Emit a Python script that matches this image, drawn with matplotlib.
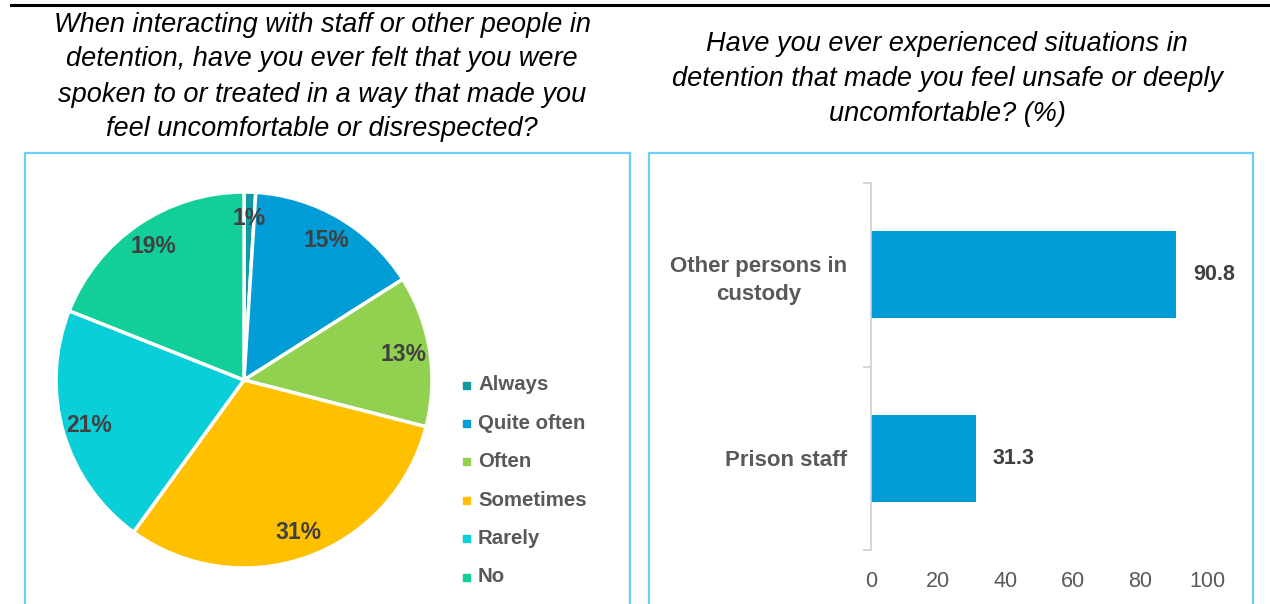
import numpy as np
import matplotlib.pyplot as plt
from matplotlib.patches import Rectangle
from matplotlib.lines import Line2D

plt.rcParams['font.family'] = ['Liberation Sans', 'DejaVu Sans']

# pie: felt disrespected
freq_labels = ['Always', 'Quite often', 'Often', 'Sometimes', 'Rarely', 'No']
freq_values = [1, 15, 13, 31, 21, 19]
freq_colors = ['#109A9E', '#029CD6', '#92D050', '#FFC000', '#0BCFD8', '#12CE98']

# bars: felt unsafe (%)
who = ['Prison staff', 'Other persons in\ncustody']
unsafe = [31.3, 90.8]
bar_color = '#029CD6'

W, H = 1270, 604
fig = plt.figure(figsize=(W / 100, H / 100), dpi=100)

# heading rule and panel frames
fig.add_artist(Line2D([11 / W, 1], [1 - 5 / H, 1 - 5 / H], color='black', lw=2.2))
for x0, x1 in [(25, 630), (649, 1253)]:
    fig.add_artist(Rectangle((x0 / W, -0.05), (x1 - x0) / W, 0.05 + (H - 153) / H,
                             fill=False, edgecolor='#6CD0F5', lw=1.6))

fig.text(322 / W, 1 - 77 / H,
         'When interacting with staff or other people in\n'
         'detention, have you ever felt that you were\n'
         'spoken to or treated in a way that made you\n'
         'feel uncomfortable or disrespected?',
         ha='center', va='center', fontsize=19.5, style='italic', linespacing=1.45)
fig.text(947 / W, 1 - 79 / H,
         'Have you ever experienced situations in\n'
         'detention that made you feel unsafe or deeply\n'
         'uncomfortable? (%)',
         ha='center', va='center', fontsize=19.5, style='italic', linespacing=1.45)

# pie chart, clockwise from 12 o'clock
r = 188
ax1 = fig.add_axes([(244 - r) / W, (H - 380 - r) / H, 2 * r / W, 2 * r / H])
wedges, _, autotexts = ax1.pie(freq_values, colors=freq_colors, startangle=90, counterclock=False,
                               autopct='%d%%', pctdistance=0.86,
                               wedgeprops=dict(edgecolor='white', linewidth=2.5))
for w in wedges:
    w.set_clip_on(False)
for t in autotexts:
    t.set_fontsize(16.5)
    t.set_fontweight('bold')
    t.set_color('#404040')
ax1.set_xlim(-1, 1)
ax1.set_ylim(-1, 1)

# legend entries
for i, (lab, col) in enumerate(zip(freq_labels, freq_colors)):
    y = 1 - (385 + i * 38.4) / H
    fig.add_artist(Rectangle((463 / W, y - 3.5 / H), 7 / W, 7 / H, color=col))
    fig.text(478 / W, y, lab, ha='left', va='center', fontsize=14.7,
             fontweight='bold', color='#595959')

# horizontal bar chart
ax2 = fig.add_axes([871 / W, 54 / H, 336 / W, 367 / H])
y = np.arange(len(who))
ax2.barh(y, unsafe, height=0.475, color=bar_color)
for yi, v in zip(y, unsafe):
    ax2.text(v + 5, yi, f'{v:.1f}', va='center', ha='left', fontsize=15.5,
             fontweight='bold', color='#404040')
ax2.set_xlim(0, 100)
ax2.set_ylim(-0.5, 1.5)
ax2.set_xticks([0, 20, 40, 60, 80, 100])
ax2.tick_params(axis='x', length=0, labelsize=15.5, labelcolor='#595959', pad=15)
ax2.set_yticks(y)
ax2.set_yticklabels(who, fontsize=16, fontweight='bold', color='#595959',
                    multialignment='center', linespacing=1.45)
ax2.tick_params(axis='y', length=0, pad=17)
ax2.set_yticks([-0.5, 0.5, 1.5], minor=True)
ax2.tick_params(axis='y', which='minor', length=6, color='#D0D0D0', width=1.2)
for s in ['top', 'right', 'bottom']:
    ax2.spines[s].set_visible(False)
ax2.spines['left'].set_color('#D0D0D0')
ax2.spines['left'].set_linewidth(1.2)

fig.savefig('out.png', dpi=100)
